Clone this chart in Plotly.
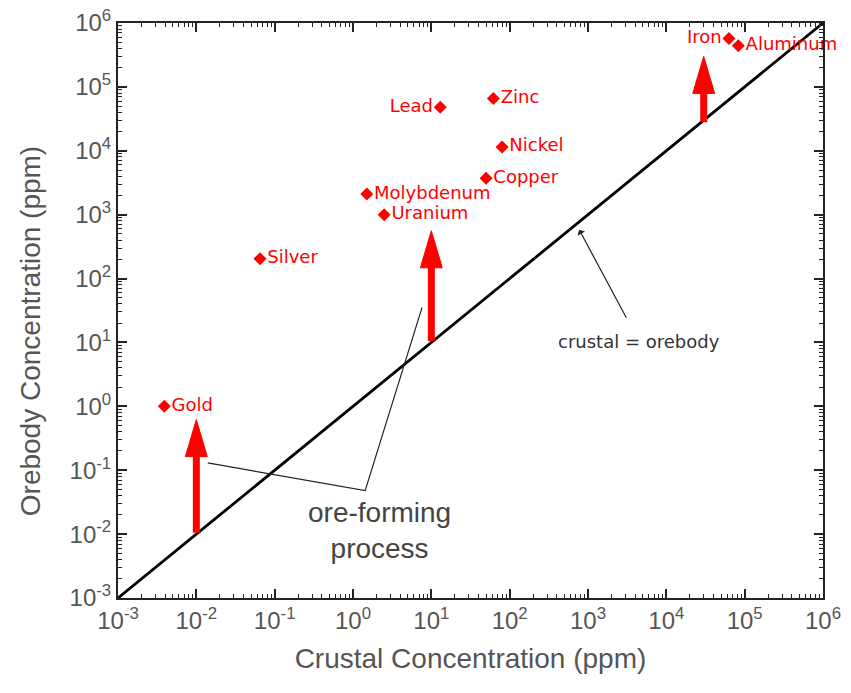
import plotly.graph_objects as go
import numpy as np

# Element data: crustal (x) vs orebody (y) concentration, ppm
elements = ["Gold", "Silver", "Uranium", "Molybdenum", "Lead", "Zinc",
            "Nickel", "Copper", "Iron", "Aluminum"]
crustal = [0.0039, 0.065, 2.5, 1.5, 13, 62, 80, 50, 63000, 83000]
orebody = [1.0, 205, 1000, 2100, 48000, 66000, 11500, 3700, 570000, 440000]
label_pos = ["middle right", "middle right", "middle right", "middle right",
             "middle left", "middle right", "middle right", "middle right",
             "middle left", "middle right"]

# Identity line crustal = orebody
line_x = [1e-3, 1e6]
line_y = [1e-3, 1e6]

# Ore-forming enrichment arrows
arrow_x = [0.01, 10, 30000]
arrow_base = [0.0105, 10.5, 28000]
arrow_tip = [0.62, 560, 300000]

# Leader lines for "ore-forming process"
leader_x = [0.014, 1.43, 7.6]
leader_y = [0.13, 0.048, 35]

# Leader for "crustal = orebody"
crust_tail = (3160, 23)
crust_tip = (773, 580)
crust_text = (4500, 10.5)
ore_text = (2.2, 0.0115)

# Axis ticks
tick_exps = list(range(-3, 7))
tick_vals = [10.0 ** k for k in tick_exps]
tick_text = ["10<sup>%d</sup>" % k for k in tick_exps]
minor_vals = [m * 10.0 ** k for k in range(-3, 6) for m in range(2, 10)]

fig = go.Figure()

# identity line
fig.add_trace(go.Scatter(x=line_x, y=line_y, mode="lines",
                         line=dict(color="black", width=2.8),
                         hoverinfo="skip", showlegend=False))

# leader lines
fig.add_trace(go.Scatter(x=leader_x, y=leader_y, mode="lines",
                         line=dict(color="#222222", width=1.2),
                         hoverinfo="skip", showlegend=False))

# arrows: shaft + head
head_len = 0.58   # decades
head_half = 0.14  # decades
for ax_, b, t in zip(arrow_x, arrow_base, arrow_tip):
    hb = 10 ** (np.log10(t) - head_len)
    fig.add_trace(go.Scatter(x=[ax_, ax_], y=[b, hb * 1.05], mode="lines",
                             line=dict(color="#ff0000", width=7),
                             hoverinfo="skip", showlegend=False))
    fig.add_trace(go.Scatter(
        x=[ax_ * 10 ** (-head_half), ax_, ax_ * 10 ** head_half, ax_ * 10 ** (-head_half)],
        y=[hb, t, hb, hb], mode="lines", fill="toself",
        fillcolor="#ff0000", line=dict(color="#ff0000", width=1),
        hoverinfo="skip", showlegend=False))

# element points
fig.add_trace(go.Scatter(x=crustal, y=orebody, mode="markers+text",
                         text=elements, textposition=label_pos,
                         marker=dict(symbol="diamond", size=10, color="#ff0000"),
                         textfont=dict(family="DejaVu Sans", size=18, color="#ff0000"),
                         showlegend=False, cliponaxis=False))

fig.add_annotation(x=np.log10(crust_tip[0]), y=np.log10(crust_tip[1]),
                   ax=np.log10(crust_tail[0]), ay=np.log10(crust_tail[1]),
                   axref="x", ayref="y", xref="x", yref="y",
                   text="", showarrow=True, arrowhead=1, arrowsize=1.2,
                   arrowwidth=1.2, arrowcolor="#222222")
fig.add_annotation(x=np.log10(crust_text[0]), y=np.log10(crust_text[1]),
                   xref="x", yref="y", text="crustal = orebody", showarrow=False,
                   font=dict(family="DejaVu Sans", size=18, color="#333333"))
fig.add_annotation(x=np.log10(ore_text[0]), y=np.log10(ore_text[1]),
                   xref="x", yref="y", text="ore-forming<br>process", showarrow=False,
                   font=dict(family="Liberation Sans", size=28, color="#444444"))

# y-axis title (placed as annotation for exact position)
fig.add_annotation(x=0, y=0.464, xref="paper", yref="paper", xanchor="center",
                   yanchor="middle", xshift=-88, textangle=-90, showarrow=False,
                   text="Orebody Concentration (ppm)",
                   font=dict(family="Liberation Sans", size=28, color="#555555"))

axis_common = dict(
    type="log", range=[-3, 6], tickmode="array", tickvals=tick_vals,
    ticktext=tick_text, automargin=False, ticklabeloverflow="allow",
    showgrid=False, zeroline=False, showline=True, linecolor="#222222",
    linewidth=2, mirror="ticks", ticks="inside", ticklen=9, tickwidth=1.5,
    tickcolor="#222222",
    tickfont=dict(family="Liberation Sans", size=24, color="#555555"),
    minor=dict(ticks="inside", ticklen=4, tickwidth=1, tickcolor="#222222",
               tickmode="array", tickvals=minor_vals, showgrid=False),
)

fig.update_xaxes(**axis_common,
                 title=dict(text="Crustal Concentration (ppm)", standoff=16,
                            font=dict(family="Liberation Sans", size=28, color="#555555")))
fig.update_yaxes(**axis_common)

fig.update_layout(width=843, height=685, margin=dict(l=110, r=28, t=15, b=95),
                  plot_bgcolor="white", paper_bgcolor="white")

fig.write_html("out.html")
